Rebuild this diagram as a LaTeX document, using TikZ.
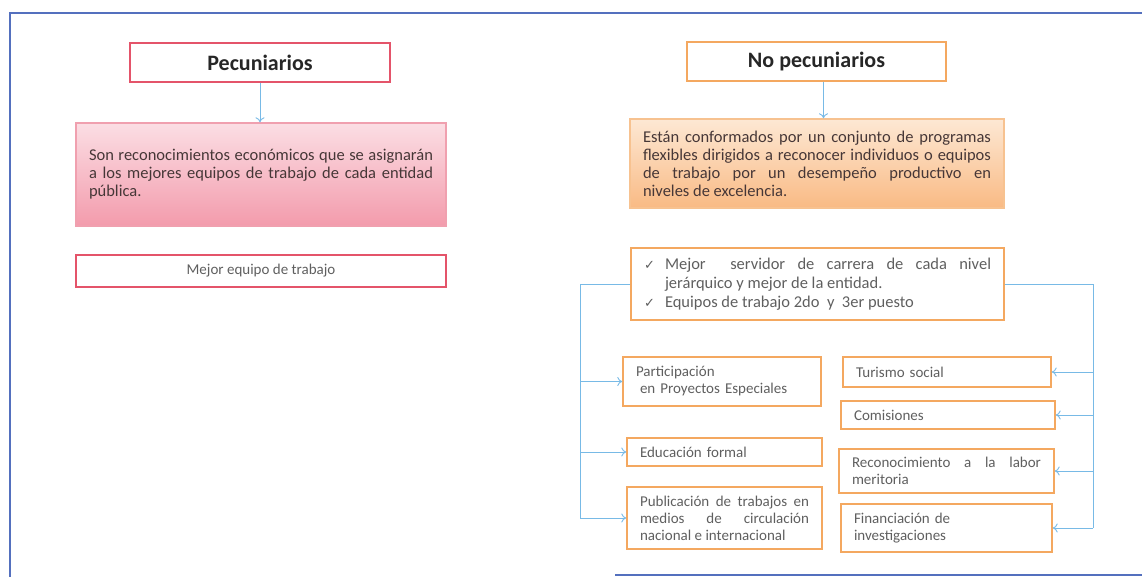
\documentclass[tikz,border=0pt]{standalone}
\usepackage{fontspec}
\setmainfont{Carlito}
\newfontfamily\symfont{DejaVu Sans}
\usepackage{xcolor}
\usetikzlibrary{arrows.meta}

\definecolor{frameblue}{RGB}{84,112,190}
\definecolor{pecred}{RGB}{228,84,106}
\definecolor{pinkline}{RGB}{240,160,175}
\definecolor{pinktop}{RGB}{251,222,228}
\definecolor{pinkbot}{RGB}{243,155,172}
\definecolor{noorange}{RGB}{244,168,96}
\definecolor{orangetop}{RGB}{253,232,212}
\definecolor{orangebot}{RGB}{249,186,132}
\definecolor{connblue}{RGB}{120,186,230}
\definecolor{textdark}{RGB}{70,55,55}
\definecolor{textgray}{RGB}{95,95,95}

\newcommand{\titlefont}{\fontsize{22pt}{26pt}\selectfont\bfseries}
\newcommand{\bodyfont}{\fontsize{16.5pt}{18pt}\selectfont}
\newcommand{\listfont}{\fontsize{16.5pt}{19pt}\selectfont}
\newcommand{\boxfont}{\fontsize{15pt}{17pt}\selectfont}
\newcommand{\chk}{\makebox[21pt][l]{\symfont\fontsize{13pt}{13pt}\selectfont ✓}}

\begin{document}
\begin{tikzpicture}[>={To[length=5pt,width=9pt]}, x=1pt, y=-1pt,
    box/.style={draw, line width=1.4pt, inner xsep=13pt, inner ysep=0pt, text=textgray, font=\boxfont},
    redbox/.style={box, draw=pecred},
    orangebox/.style={box, draw=noorange},
    conn/.style={draw=connblue, line width=0.9pt}]
    \useasboundingbox (0,0) rectangle (1142,577);

    % Frame
    \draw[frameblue, line width=1.6pt] (1142,13) -- (10,13) -- (10,577);
    \draw[frameblue, line width=1.6pt] (615,575) -- (1142,575);

    % Pecuniarios
    \node[redbox, minimum width=260pt, minimum height=39pt, font=\titlefont, text=black!85] (Pec) at (260,62.5) {Pecuniarios};
    \node[box, draw=pinkline, top color=pinktop, bottom color=pinkbot, minimum width=370pt, minimum height=103pt,
          text width=344pt, align=justify, font=\bodyfont, text=textdark] (PecDesc) at (261,174.5)
          {Son reconocimientos económicos que se asignarán\linebreak a los mejores equipos de trabajo de cada entidad\linebreak pública.};
    \node[redbox, minimum width=370pt, minimum height=32pt] (PecEquipo) at (261,271) {Mejor equipo de trabajo};

    % No pecuniarios
    \node[orangebox, minimum width=259pt, minimum height=39pt, font=\titlefont, text=black!85] (NoPec) at (816.5,61.5) {No pecuniarios};
    \node[box, draw=noorange!70, top color=orangetop, bottom color=orangebot, minimum width=374pt, minimum height=89pt,
          text width=348pt, align=justify, font=\bodyfont, text=textdark] (NoPecDesc) at (817,163.5)
          {Están conformados por un conjunto de programas\linebreak flexibles dirigidos a reconocer individuos o equipos\linebreak de trabajo por un desempeño productivo en\linebreak niveles de excelencia.};
    \node[orangebox, minimum width=373pt, minimum height=72pt, text width=347pt, align=justify, font=\listfont] (Lista) at (817.5,284)
          {\noindent\hangindent=21pt\hangafter=1\chk Mejor\ \ servidor de carrera de cada nivel\linebreak jerárquico y mejor de la entidad.\par
           \noindent\hangindent=21pt\hangafter=1\chk Equipos de trabajo 2do\ \ y\ \ 3er puesto};

    % Left column
    \node[orangebox, minimum width=198pt, minimum height=49pt, text width=172pt, align=left] (Part) at (722,381.5)
          {Participación\\\hspace*{4pt}en Proyectos Especiales};
    \node[orangebox, minimum width=195pt, minimum height=28pt, text width=169pt, align=left] (Edu) at (724.5,452) {Educación formal};
    \node[orangebox, minimum width=195pt, minimum height=62pt, text width=169pt, align=justify] (Pub) at (724.5,518)
          {Publicación de trabajos en\linebreak medios de circulación\linebreak nacional e internacional};

    % Right column
    \node[orangebox, minimum width=208pt, minimum height=30pt, text width=182pt, align=left] (Tur) at (947,372) {Turismo social};
    \node[orangebox, minimum width=214pt, minimum height=28pt, text width=188pt, align=left] (Com) at (948,415) {Comisiones};
    \node[orangebox, minimum width=215pt, minimum height=44pt, text width=189pt, align=justify] (Rec) at (946.5,471)
          {Reconocimiento a la labor\linebreak meritoria};
    \node[orangebox, minimum width=211pt, minimum height=48pt, text width=185pt, align=left] (Fin) at (946.5,528)
          {Financiación de\\investigaciones};

    % Connections
    \coordinate (LeftBus) at (580,0);
    \coordinate (RightBus) at (1093,0);
    \draw[conn,->] (Pec.south) -- (Pec.south |- PecDesc.north);
    \draw[conn,->] ([xshift=7pt]NoPec.south) -- ([xshift=7pt]NoPec.south |- NoPecDesc.north);
    \draw[conn] (Lista.west) -- (Lista.west -| LeftBus) -- (LeftBus |- Pub.west);
    \draw[conn] (Lista.east) -- (Lista.east -| RightBus) -- (RightBus |- Fin.east);
    \foreach \b in {Part,Edu,Pub}
    {
        \draw[conn,->] (LeftBus |- \b.west) -- (\b.west);
    }
    \foreach \b in {Tur,Com,Rec,Fin}
    {
        \draw[conn,->] (RightBus |- \b.east) -- (\b.east);
    }

\end{tikzpicture}
\end{document}
